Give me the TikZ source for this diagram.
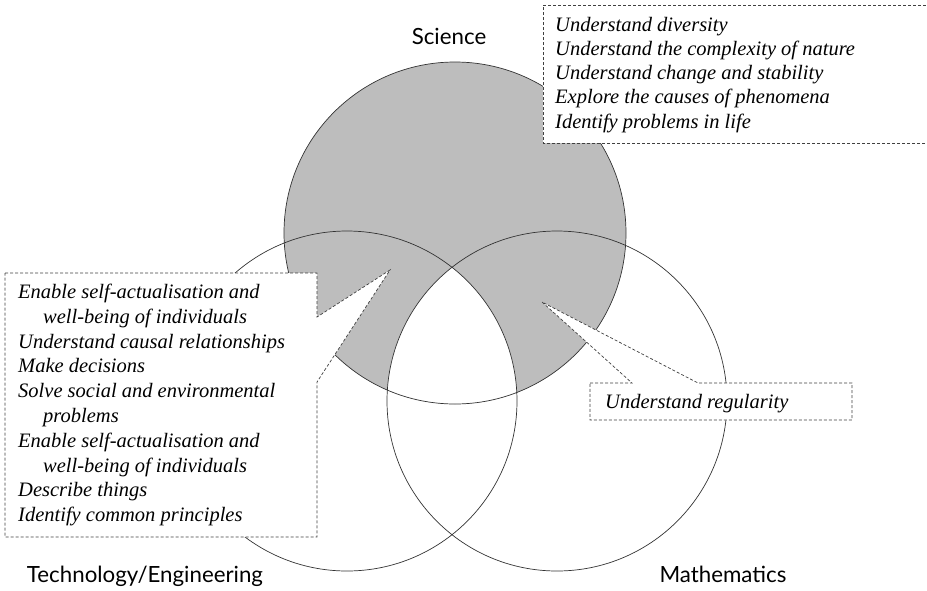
\documentclass[tikz,border=0pt]{standalone}
\usepackage{fontspec}
\setmainfont{Liberation Serif}
\newfontfamily\labelfont{Lato}
\usepackage{tikz}
\tikzstyle{setcircle} = [draw=black!80, line width=0.7pt]
\tikzstyle{callbox} = [draw=black!75, fill=white, line width=0.7pt, dash pattern=on 3pt off 2pt]
\tikzstyle{setlabel} = [font=\labelfont\fontsize{22.3}{26}\selectfont, anchor=base]
\tikzstyle{boxtext} = [font=\itshape\fontsize{20.5}{24.8}\selectfont, align=left, anchor=base west, inner sep=0pt]

\begin{document}
\begin{tikzpicture}[x=1pt, y=-1pt]
		\useasboundingbox (0,0) rectangle (927,590);
		
		% Circle centres
		\coordinate (sci) at (455,233);
		\coordinate (tech) at (347,401);
		\coordinate (math) at (557,401);
		
		% Shaded science circle, centre left white
		\fill[gray!52] (sci) circle (171);
		\begin{scope}
			\clip (sci) circle (171);
			\clip (tech) circle (170);
			\fill[white] (math) circle (170);
		\end{scope}
		\draw [setcircle] (sci) circle (171);
		\draw [setcircle] (tech) circle (170);
		\draw [setcircle] (math) circle (170);
		
		% Pointer tips
		\coordinate (techtip) at (390,270);
		\coordinate (mathtip) at (542,302);
		
		% Callout boxes
		\draw [callbox] (543,5) -- (940,5) -- (940,143) -- (543,143) -- cycle;
		\draw [callbox] (5,273) -- (317,273) -- (317,317) -- (techtip) -- (317,382) -- (317,537) -- (5,537) -- cycle;
		\draw [callbox] (590,383) -- (632,383) -- (mathtip) -- (698,383) -- (852,383) -- (852,420) -- (590,420) -- cycle;
		
		% Texts in boxes
		\node (scitext) [boxtext, font=\itshape\fontsize{20.5}{24.1}\selectfont] at (555,128) {Understand diversity\\
			Understand the complexity of nature\\
			Understand change and stability\\
			Explore the causes of phenomena\\
			Identify problems in life};
		\node (techtext) [boxtext] at (18,521.7) {Enable self-actualisation and\\
			\hspace*{25pt}well-being of individuals\\
			Understand causal relationships\\
			Make decisions\\
			Solve social and environmental\\
			\hspace*{25pt}problems\\
			Enable self-actualisation and\\
			\hspace*{25pt}well-being of individuals\\
			Describe things\\
			Identify common principles};
		\node (mathtext) [boxtext] at (605,408) {Understand regularity};
		
		% Labels
		\node (scilabel) [setlabel] at (449,44) {Science};
		\node (techlabel) [setlabel] at (145,582) {Technology/Engineering};
		\node (mathlabel) [setlabel] at (723,582) {Mathematics};
		
	\end{tikzpicture}
\end{document}
